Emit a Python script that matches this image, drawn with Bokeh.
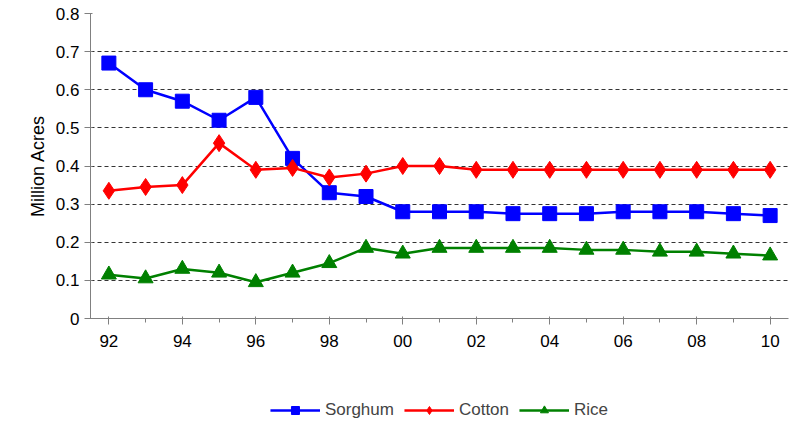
from bokeh.plotting import figure
from bokeh.layouts import column
from bokeh.models import Legend, LegendItem, Range1d, FixedTicker
from bokeh.embed import file_html
from bokeh.resources import INLINE

years = ["92", "93", "94", "95", "96", "97", "98", "99", "00", "01",
         "02", "03", "04", "05", "06", "07", "08", "09", "10"]
sorghum = [0.67, 0.60, 0.57, 0.52, 0.58, 0.42, 0.33, 0.32, 0.28, 0.28,
           0.28, 0.275, 0.275, 0.275, 0.28, 0.28, 0.28, 0.275, 0.27]
cotton = [0.335, 0.345, 0.35, 0.46, 0.39, 0.395, 0.37, 0.38, 0.40, 0.40,
          0.39, 0.39, 0.39, 0.39, 0.39, 0.39, 0.39, 0.39, 0.39]
rice = [0.115, 0.105, 0.13, 0.12, 0.095, 0.12, 0.145, 0.185, 0.17, 0.185,
        0.185, 0.185, 0.185, 0.18, 0.18, 0.175, 0.175, 0.17, 0.165]
xs = list(range(len(years)))

p = figure(width=792, height=392, output_backend="svg", toolbar_location=None,
           x_range=Range1d(-0.5, 18.5), y_range=Range1d(0, 0.8),
           min_border_left=90, min_border_right=4, min_border_top=13,
           min_border_bottom=74)

p.outline_line_color = None
p.xgrid.grid_line_color = None
p.ygrid.grid_line_color = "black"
p.ygrid.grid_line_dash = "4 3"
p.ygrid.grid_line_width = 0.8

p.xaxis.ticker = FixedTicker(ticks=xs[::2], minor_ticks=xs)
p.xaxis.major_label_overrides = {i: years[i] for i in xs}
p.yaxis.ticker = FixedTicker(ticks=[0, 0.1, 0.2, 0.3, 0.4, 0.5, 0.6, 0.7, 0.8],
                             minor_ticks=[])
p.yaxis.axis_label = "Million Acres"
for ax in (p.xaxis, p.yaxis):
    ax.axis_line_color = "#808080"
    ax.major_tick_line_color = "#808080"
    ax.minor_tick_line_color = "#808080"
    ax.major_label_text_font = "Liberation Sans"
    ax.major_label_text_font_size = "17px"
    ax.major_label_text_color = "black"
    ax.axis_label_text_font = "Liberation Sans"
    ax.axis_label_text_font_size = "18px"
    ax.axis_label_text_color = "black"
    ax.axis_label_text_font_style = "normal"
p.xaxis.major_label_standoff = 10

styles = [("Sorghum", sorghum, "#0000FF", "square", 14),
          ("Cotton", cotton, "#FF0000", "diamond", 17),
          ("Rice", rice, "#008000", "triangle", 15)]

# legend lives in its own small figure below the chart
lg = figure(width=792, height=36, output_backend="svg", toolbar_location=None,
            x_range=Range1d(0, 1), y_range=Range1d(0, 1),
            min_border=0, outline_line_color=None)
lg.axis.visible = False
lg.grid.visible = False
items = []
for name, vals, col, mk, sz in styles:
    p.line(xs, vals, line_color=col, line_width=2.5)
    p.scatter(xs, vals, marker=mk, size=sz, color=col)
    a = lg.line([-5, -4], [-5, -4], line_color=col, line_width=2.5)
    b = lg.scatter([-5], [-5], marker=mk, size=sz, color=col)
    items.append(LegendItem(label=name, renderers=[a, b]))

legend = Legend(items=items, orientation="horizontal", location="center",
                border_line_color=None, background_fill_alpha=0,
                label_text_font="Liberation Sans",
                label_text_font_size="17px", glyph_width=50, spacing=10)
lg.add_layout(legend)

open("out.html", "w").write(file_html(column(p, lg, spacing=0), INLINE))
